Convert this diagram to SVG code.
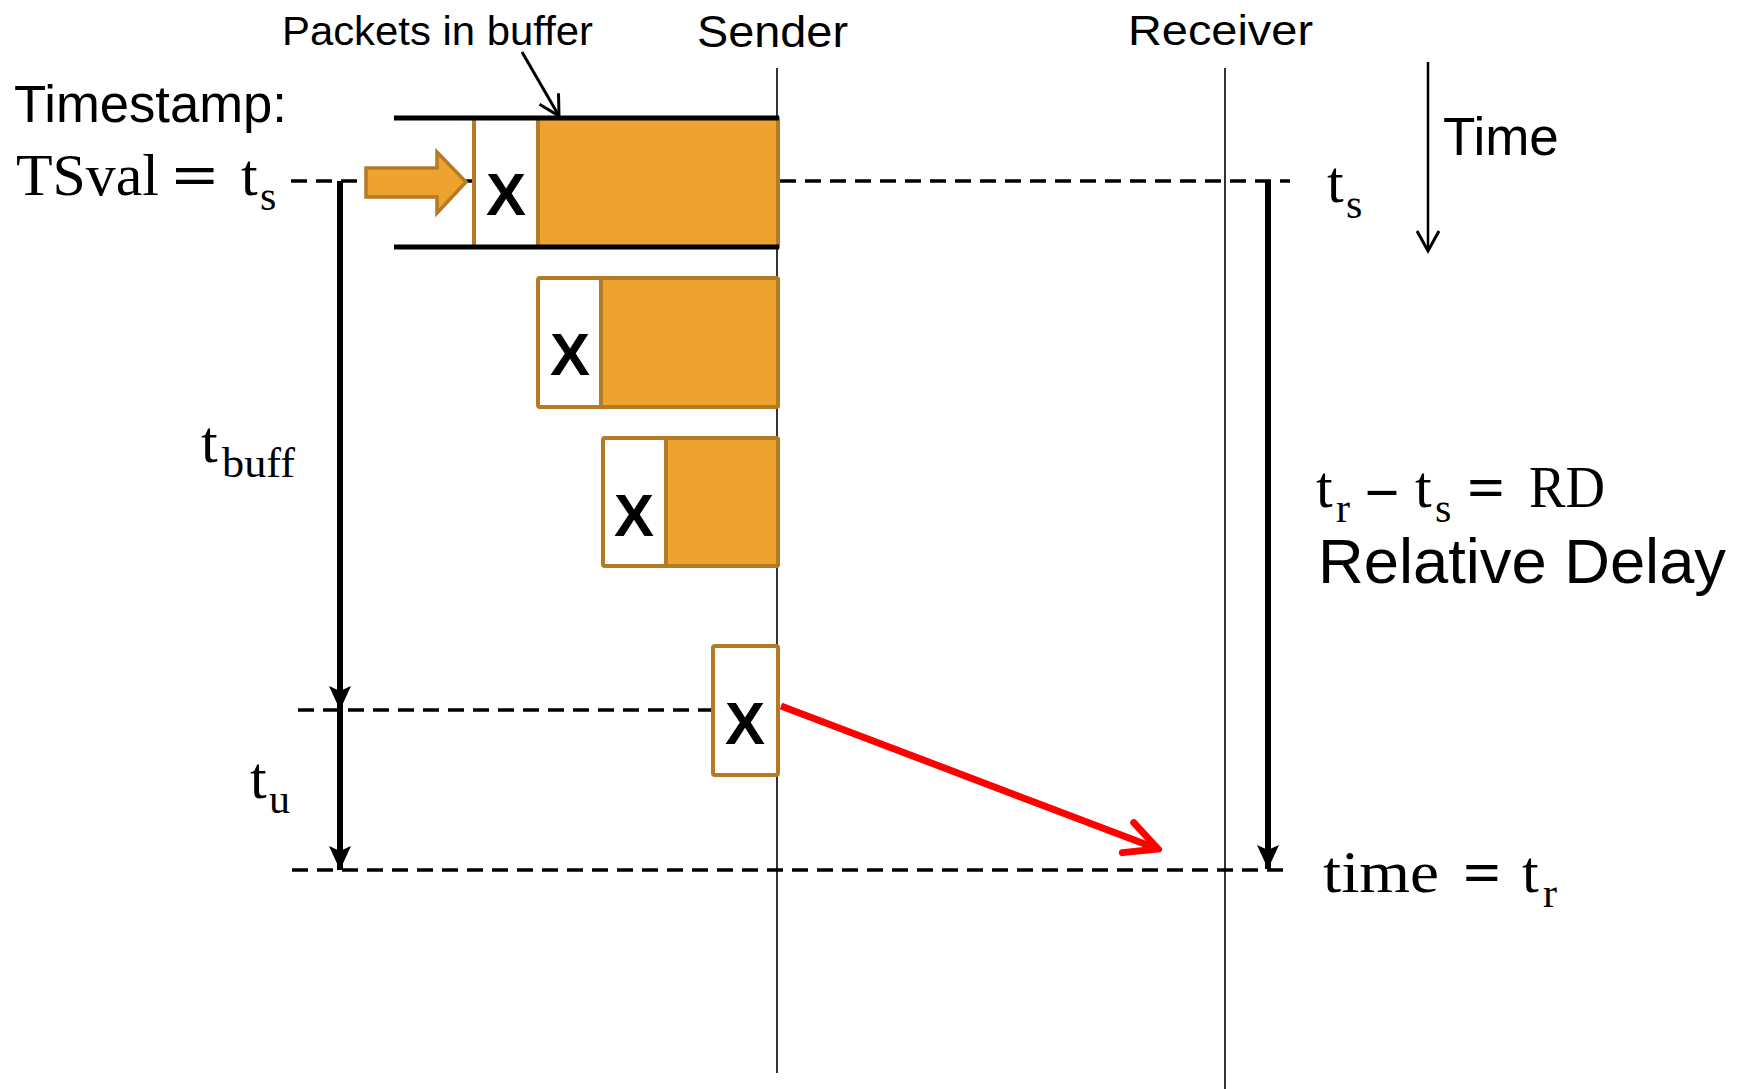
<svg xmlns="http://www.w3.org/2000/svg" width="1744" height="1089" viewBox="0 0 1744 1089">
<style>
.sans{font-family:"Liberation Sans",Arial,sans-serif;fill:#000}
.serif{font-family:"Liberation Serif","Times New Roman",serif;fill:#000;font-size:60px}
.sub{font-size:42px}
.op{font-weight:bold}
.x{font-family:"Liberation Sans",Arial,sans-serif;font-weight:bold;font-size:60px;text-anchor:middle;fill:#000}
.pkt{fill:#EEA330;stroke:#B57A26;stroke-width:4;stroke-linejoin:round}
.wht{fill:#fff;stroke:#B57A26;stroke-width:4;stroke-linejoin:round}
.dash{stroke:#000;stroke-width:3.5;stroke-dasharray:16 9;fill:none}
.life{stroke:#000;stroke-width:1.6;fill:none}
.bar{stroke:#000;stroke-width:5;fill:none}
.thick{stroke:#000;stroke-width:6;fill:none}
</style>
<defs>
<marker id="tri" markerUnits="userSpaceOnUse" markerWidth="24" markerHeight="24" viewBox="-24 -12 24 24" refX="0" refY="0" orient="auto">
<path d="M0,0 L-24,-11 L-19,0 L-24,11 Z" fill="#000"/>
</marker>
<marker id="openRed" markerUnits="userSpaceOnUse" markerWidth="44" markerHeight="44" viewBox="-40 -22 44 44" refX="0" refY="0" orient="auto">
<path d="M-32,-16 L0,0 L-32,16" fill="none" stroke="#FF0000" stroke-width="7" stroke-linecap="round" stroke-linejoin="miter"/>
</marker>
<marker id="openBlack" markerUnits="userSpaceOnUse" markerWidth="30" markerHeight="30" viewBox="-26 -15 30 30" refX="0" refY="0" orient="auto">
<path d="M-20,-11 L0,0 L-20,11" fill="none" stroke="#000" stroke-width="3"/>
</marker>
</defs>

<g id="lifelines">
<line class="life" x1="777" y1="68" x2="777" y2="1073"/>
<line class="life" x1="1225" y1="68" x2="1225" y2="1089"/>
</g>

<g id="connectors">
<line class="dash" x1="291" y1="181" x2="474" y2="181"/>
<line class="dash" x1="780" y1="181" x2="1290" y2="181"/>
<line class="dash" x1="298" y1="710" x2="713" y2="710"/>
<line class="dash" x1="292" y1="870" x2="1290" y2="870"/>
<line class="thick" x1="340" y1="181" x2="340" y2="710" marker-end="url(#tri)"/>
<line class="thick" x1="340" y1="710" x2="340" y2="870" marker-end="url(#tri)"/>
<line class="thick" x1="1268" y1="181" x2="1268" y2="869" marker-end="url(#tri)"/>
<line stroke="#000" stroke-width="2.5" x1="1428" y1="62" x2="1428" y2="251" marker-end="url(#openBlack)"/>
<line stroke="#000" stroke-width="3" x1="522" y1="52" x2="559" y2="116" marker-end="url(#openBlack)"/>
<line stroke="#FF0000" stroke-width="7" x1="781" y1="706" x2="1158" y2="849" marker-end="url(#openRed)"/>
</g>

<g id="arrow-in">
<polygon points="366,168 437,168 437,152 466,182 437,213 437,197 366,197" fill="#EEA330" stroke="#B57A26" stroke-width="3.5" stroke-linejoin="miter"/>
</g>

<g id="packet1">
<rect class="wht" x="474" y="118" width="304" height="129"/>
<rect class="pkt" x="538" y="118" width="240" height="129"/>
<text class="x" x="506" y="215">X</text>
</g>
<g id="buffer">
<line class="bar" x1="394" y1="118" x2="779" y2="118"/>
<line class="bar" x1="394" y1="247" x2="779" y2="247"/>
</g>
<g id="packet2">
<rect class="wht" x="538" y="278" width="240" height="129" rx="2"/>
<rect class="pkt" x="601" y="278" width="177" height="129" rx="2"/>
<text class="x" x="570" y="375">X</text>
</g>
<g id="packet3">
<rect class="wht" x="603" y="438" width="175" height="128" rx="2"/>
<rect class="pkt" x="666" y="438" width="112" height="128" rx="2"/>
<text class="x" x="634" y="536">X</text>
</g>
<g id="packet4">
<rect class="wht" x="713" y="646" width="65" height="129" rx="2"/>
<text class="x" x="745" y="744">X</text>
</g>

<g id="labels">
<text class="sans" x="282" y="45" font-size="40" textLength="311" lengthAdjust="spacingAndGlyphs">Packets in buffer</text>
<text class="sans" x="697" y="47" font-size="44" textLength="151" lengthAdjust="spacingAndGlyphs">Sender</text>
<text class="sans" x="1128" y="45" font-size="42" textLength="185" lengthAdjust="spacingAndGlyphs">Receiver</text>
<text class="sans" x="1443" y="155" font-size="53">Time</text>
<text class="sans" x="14" y="122" font-size="51" textLength="273" lengthAdjust="spacingAndGlyphs">Timestamp:</text>
<text class="sans" x="1318" y="583" font-size="63" textLength="408" lengthAdjust="spacingAndGlyphs">Relative Delay</text>

<text class="serif"><tspan x="16" y="195" textLength="143" lengthAdjust="spacingAndGlyphs">TSval</tspan><tspan class="op" x="172" y="195" textLength="46" lengthAdjust="spacingAndGlyphs">=</tspan><tspan x="241" y="195">t</tspan><tspan class="sub" x="260" y="210">s</tspan></text>

<text class="serif"><tspan x="1327" y="202">t</tspan><tspan class="sub" x="1346" y="218">s</tspan></text>

<text class="serif"><tspan x="201" y="462">t</tspan><tspan class="sub" x="222" y="477" textLength="73" lengthAdjust="spacingAndGlyphs">buff</tspan></text>

<text class="serif"><tspan x="250" y="798">t</tspan><tspan class="sub" x="269" y="813">u</tspan></text>

<text class="serif"><tspan x="1316" y="507">t</tspan><tspan class="sub" x="1336" y="522">r</tspan><tspan class="op" x="1368" y="507" textLength="28" lengthAdjust="spacingAndGlyphs">–</tspan><tspan x="1415" y="507">t</tspan><tspan class="sub" x="1435" y="522">s</tspan><tspan class="op" x="1467" y="507" textLength="38" lengthAdjust="spacingAndGlyphs">=</tspan><tspan x="1529" y="507" textLength="76" lengthAdjust="spacingAndGlyphs">RD</tspan></text>

<text class="serif"><tspan x="1323" y="892" textLength="116" lengthAdjust="spacingAndGlyphs">time</tspan><tspan class="op" x="1463" y="892" textLength="38" lengthAdjust="spacingAndGlyphs">=</tspan><tspan x="1522" y="892">t</tspan><tspan class="sub" x="1543" y="907">r</tspan></text>
</g>
</svg>
